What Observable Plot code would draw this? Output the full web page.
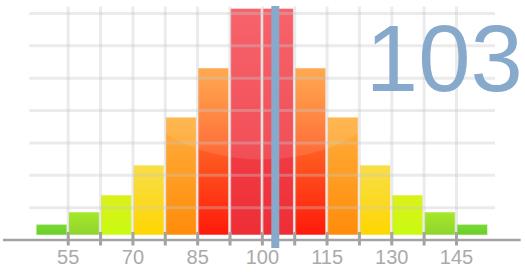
<!DOCTYPE html>
<html><head><meta charset="utf-8">
<script src="https://cdn.jsdelivr.net/npm/d3@7"></script>
<script src="https://cdn.jsdelivr.net/npm/@observablehq/plot@0.6"></script>
<style>html,body{margin:0;padding:0;background:#fff;overflow:hidden}</style>
</head><body><div id="chart"></div>
<script>
// ---- data ----
const binStarts = [47.5, 55, 62.5, 70, 77.5, 85, 92.5, 100, 107.5, 115, 122.5, 130, 137.5, 145];
const binEnds   = [55, 62.5, 70, 77.5, 85, 92.5, 100, 107.5, 115, 122.5, 130, 137.5, 145, 152.5];
const frequencies = [0.47, 0.85, 1.375, 2.30, 3.78, 5.30, 7.14, 7.14, 5.30, 3.78, 2.30, 1.375, 0.85, 0.47];
const colorLevels = [0, 1, 2, 3, 4, 5, 6, 6, 5, 4, 3, 2, 1, 0];
const gradientTops    = ["#7ad93a", "#a5e82a", "#dcf01c", "#f8de48", "#ffae3c", "#ffa03a", "#f6505a"];
const gradientBottoms = ["#68d024", "#8fd42e", "#c8fb10", "#ffd600", "#ff8c0a", "#ff1a0a", "#ee2e36"];
const tickValues = [55, 62.5, 70, 77.5, 85, 92.5, 100, 107.5, 115, 122.5, 130, 137.5, 145];
const tickLabels = [55, 70, 85, 100, 115, 130, 145];
const gridLevels = [1, 2, 3, 4, 5, 6, 7];
const score = 103;

const bins = binStarts.map((x1, i) => ({x1, x2: binEnds[i], freq: frequencies[i], level: colorLevels[i]}));

const font = "'Liberation Sans', Arial, sans-serif";
const axisGray = "#a3a3a3";
const scoreBlue = "#87a9cb";

// decorative gloss highlight
const gloss = (index, scales) => {
  const x = scales.x, y = scales.y;
  return d3.create("svg:ellipse")
    .attr("cx", x(100)).attr("cy", y(6.17))
    .attr("rx", x(136) - x(100)).attr("ry", y(2.47) - y(6.17))
    .attr("fill", "#fff").attr("fill-opacity", 0.11)
    .node();
};

const svg = Plot.plot({
  width: 525, height: 272,
  marginLeft: 3, marginRight: 4.3, marginTop: 0, marginBottom: 32.5,
  x: {domain: [40, 160], axis: null},
  y: {domain: [0, 7.4], axis: null},
  color: {type: "identity"},
  style: {fontFamily: font, background: "#fff", overflow: "visible"},
  marks: [
    Plot.rectY(bins, {
      x1: "x1", x2: "x2", y: "freq",
      fill: d => `url(#barGrad${d.level})`,
      insetLeft: 0.8, insetRight: 0.8, insetBottom: 4.5,
      stroke: "#fff", strokeOpacity: 0.55, strokeWidth: 1
    }),
    gloss,
    Plot.ruleY(gridLevels, {stroke: "#c8c8c8", strokeOpacity: 0.36, strokeWidth: 3, insetLeft: 26.3, insetRight: 25.7}),
    Plot.ruleX(tickValues, {stroke: "#c8c8c8", strokeOpacity: 0.36, strokeWidth: 3, insetTop: 6.5}),
    Plot.ruleY([0], {stroke: axisGray, strokeWidth: 2.5}),
    Plot.ruleX(tickValues, {y1: 0, y2: 0, insetTop: -7.5, insetBottom: -6, stroke: axisGray, strokeWidth: 3}),
    Plot.axisX({ticks: tickLabels, tickSize: 0, tickPadding: 9.5, fontSize: 20, color: "#aaa", fill: "#aaa", fontFamily: font}),
    Plot.ruleX([score], {stroke: scoreBlue, strokeWidth: 8, insetTop: 6, insetBottom: -8.5}),
    Plot.text([score], {
      frameAnchor: "top-right", text: d => String(d), fontSize: 94, fontFamily: font,
      fill: scoreBlue, lineAnchor: "bottom", dy: 90, dx: 1.5
    })
  ]
});

const defs = d3.select(svg).insert("defs", ":first-child");
gradientTops.forEach((c, i) => {
  const g = defs.append("linearGradient").attr("id", `barGrad${i}`)
    .attr("x1", 0).attr("y1", 0).attr("x2", 0).attr("y2", 1);
  g.append("stop").attr("offset", "0%").attr("stop-color", c);
  g.append("stop").attr("offset", "100%").attr("stop-color", gradientBottoms[i]);
});

document.getElementById("chart").appendChild(svg);
</script>
</body></html>
